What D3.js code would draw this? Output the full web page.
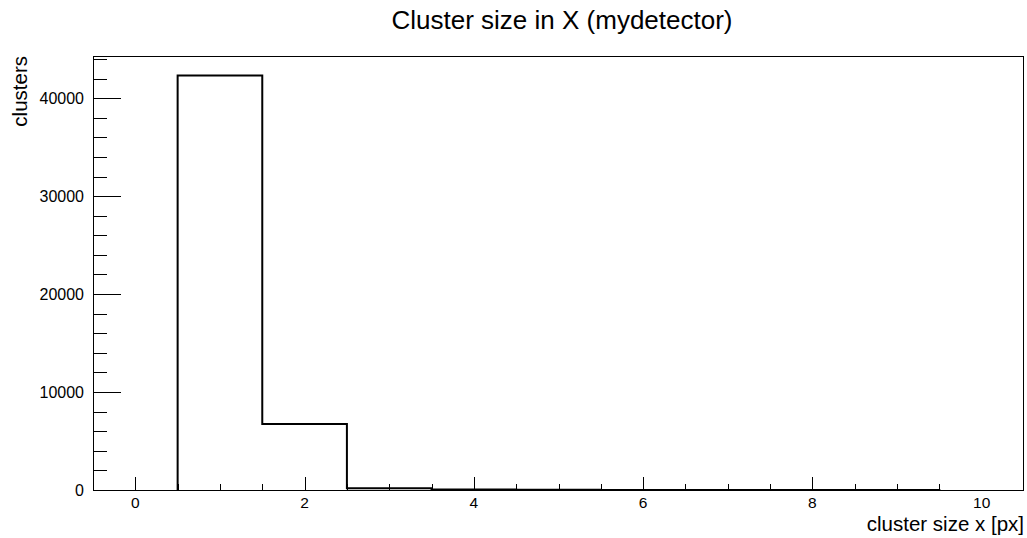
<!DOCTYPE html>
<html>
<head>
<meta charset="utf-8">
<script src="https://cdn.jsdelivr.net/npm/d3@7"></script>
<style>
  body { margin: 0; background: #fff; }
  svg { display: block; font-family: "Liberation Sans", Arial, sans-serif; }
</style>
</head>
<body>
<svg id="chart" width="1027" height="538"></svg>
<script>
// histogram content (bin centres and entries)
const binCenters = [0, 1, 2, 3, 4, 5, 6, 7, 8, 9, 10];
const binCounts = [0, 42300, 6730, 190, 50, 20, 12, 8, 5, 3, 0];
const xTickLabels = [0, 2, 4, 6, 8, 10];
const yTickLabels = [0, 10000, 20000, 30000, 40000];

const titleText = "Cluster size in X (mydetector)";
const xTitle = "cluster size x [px]";
const yTitle = "clusters";

const margin = { left: 93, top: 56, right: 3, bottom: 48 };
const width = 1027, height = 538;

const svg = d3.select("#chart");

const x = d3.scaleLinear()
    .domain([-0.5, 10.5])
    .range([margin.left, width - margin.right]);

const y = d3.scaleLinear()
    .domain([0, 44300])
    .range([height - margin.bottom, margin.top]);

const x0 = margin.left, x1 = width - margin.right;
const y0 = height - margin.bottom, y1 = margin.top;

// frame
svg.append("rect")
    .attr("x", x0 + 0.5).attr("y", y1 + 0.5)
    .attr("width", x1 - x0 - 1).attr("height", y0 - y1)
    .attr("fill", "none").attr("stroke", "#000").attr("stroke-width", 1);

// histogram outline (step)
const pts = [];
binCenters.forEach((c, i) => {
    if (i === 0 || i === binCenters.length - 1) return;
    if (pts.length === 0) pts.push([c - 0.5, 0]);
    pts.push([c - 0.5, binCounts[i]]);
    pts.push([c + 0.5, binCounts[i]]);
});
pts.push([pts[pts.length - 1][0], 0]);

svg.append("path")
    .attr("d", d3.line().x(d => x(d[0])).y(d => y(d[1]))(pts))
    .attr("fill", "none")
    .attr("stroke", "#000")
    .attr("stroke-width", 2);

// x axis ticks: major every 2, minor every 0.5
const xMinor = d3.range(0, 21).map(i => -0.5 + i * 0.5).filter(v => v > -0.5 && v < 10.5);
svg.append("g").selectAll("line").data(xMinor).join("line")
    .attr("x1", d => Math.round(x(d)) + 0.5).attr("x2", d => Math.round(x(d)) + 0.5)
    .attr("y1", y0)
    .attr("y2", d => xTickLabels.includes(d) ? y0 - 13 : y0 - 6)
    .attr("stroke", "#000").attr("stroke-width", 1);

svg.append("g").selectAll("text").data(xTickLabels).join("text")
    .attr("x", d => x(d))
    .attr("y", y0 + 18)
    .attr("text-anchor", "middle")
    .attr("font-size", 15.5)
    .text(d => d);

// y axis ticks: major every 10000, minor every 2000
const yMinor = d3.range(0, 23).map(i => i * 2000).filter(v => y(v) > y1);
svg.append("g").selectAll("line").data(yMinor).join("line")
    .attr("y1", d => Math.round(y(d)) + 0.5).attr("y2", d => Math.round(y(d)) + 0.5)
    .attr("x1", x0)
    .attr("x2", d => yTickLabels.includes(d) ? x0 + 28 : x0 + 14)
    .attr("stroke", "#000").attr("stroke-width", 1);

svg.append("g").selectAll("text").data(yTickLabels).join("text")
    .attr("x", x0 - 9)
    .attr("y", d => y(d) + 6)
    .attr("text-anchor", "end")
    .attr("font-size", 16)
    .text(d => d);

// titles
svg.append("text")
    .attr("x", 562).attr("y", 29)
    .attr("text-anchor", "middle")
    .attr("font-size", 26)
    .text(titleText);

svg.append("text")
    .attr("x", x1).attr("y", 531)
    .attr("text-anchor", "end")
    .attr("font-size", 20.5)
    .text(xTitle);

svg.append("text")
    .attr("transform", `translate(27, ${y1}) rotate(-90)`)
    .attr("text-anchor", "end")
    .attr("font-size", 20.5)
    .text(yTitle);
</script>
</body>
</html>
